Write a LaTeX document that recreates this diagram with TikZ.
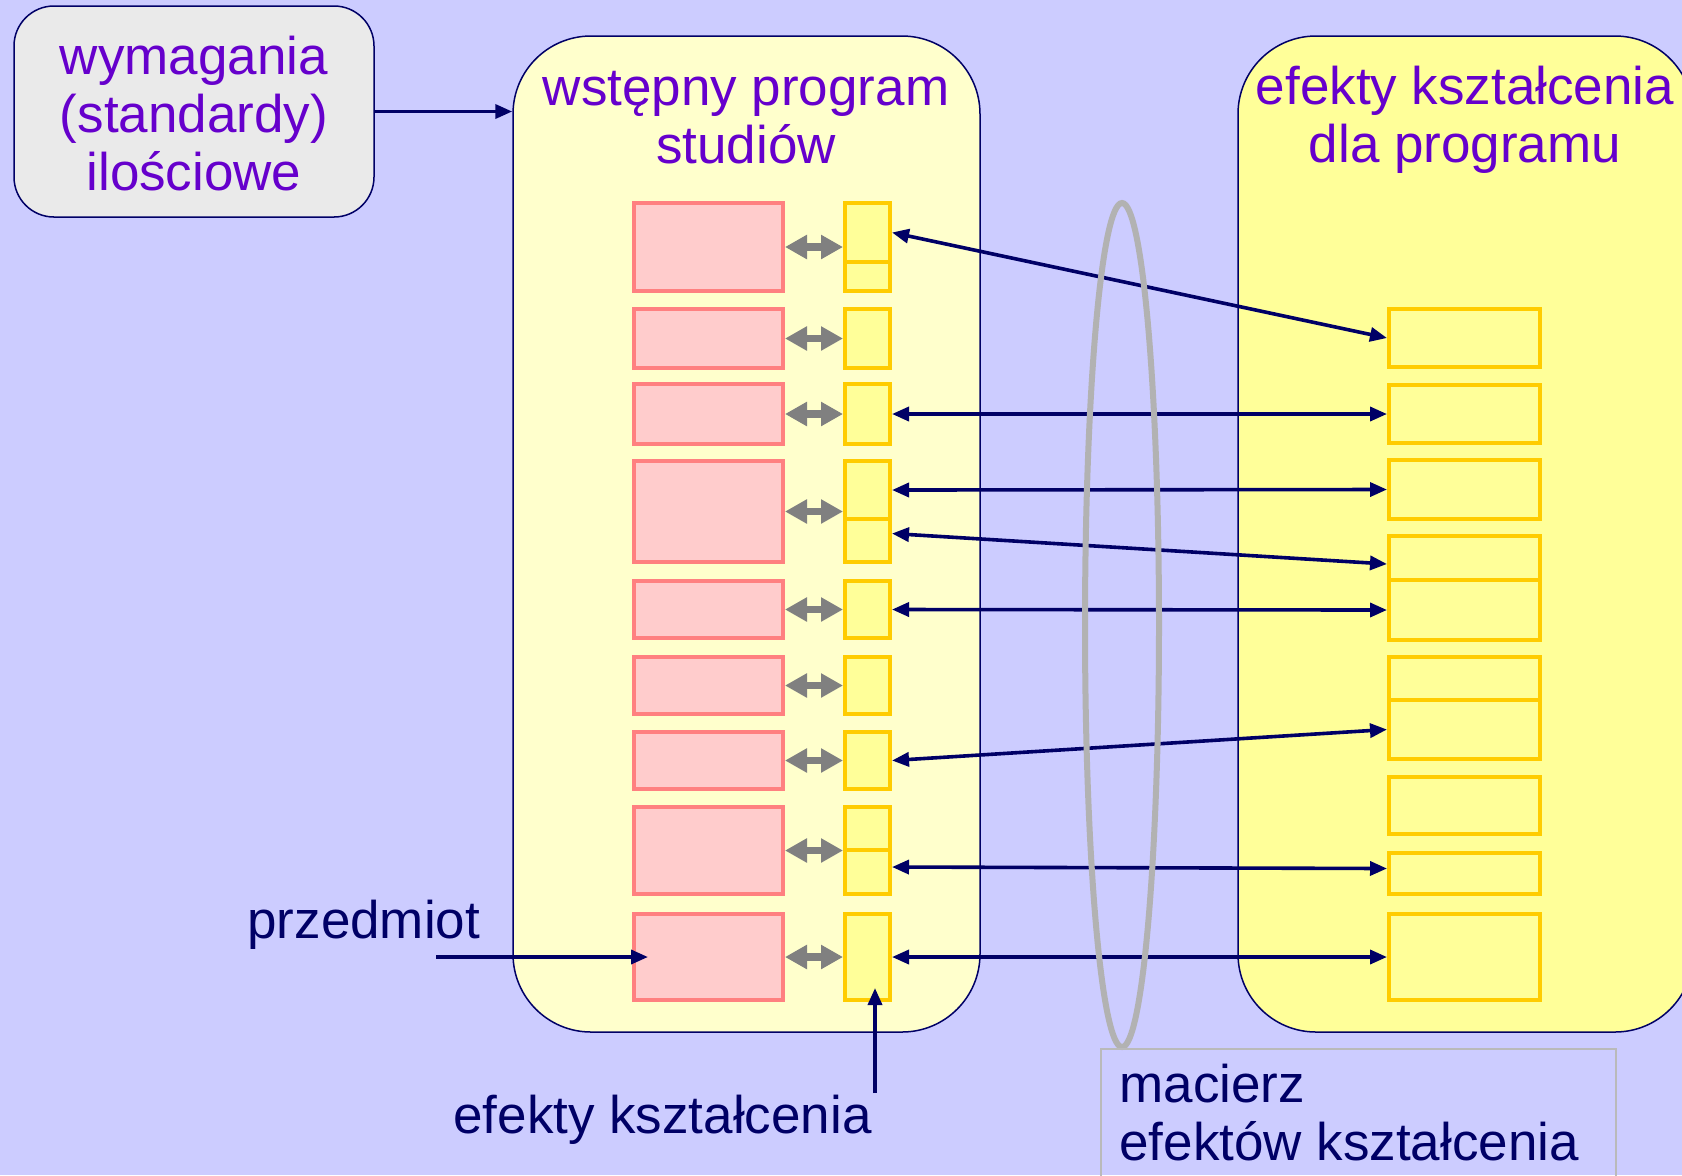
\documentclass[tikz,border=0pt]{standalone}
\usepackage{fontspec}
\setmainfont{Liberation Sans}
\usepackage{xcolor}
\usepackage{tikz}
\usetikzlibrary{arrows.meta}
\usetikzlibrary{fit}
\usetikzlibrary{positioning}

\definecolor{bgblue}{HTML}{CCCCFF}
\definecolor{titlepurple}{HTML}{6600CC}
\definecolor{navy}{HTML}{000066}
\definecolor{pinkfill}{HTML}{FFCCCC}
\definecolor{pinkline}{HTML}{FF8080}
\definecolor{yellowfill}{HTML}{FFFF99}
\definecolor{yellowline}{HTML}{FFCC00}
\definecolor{progfill}{HTML}{FFFFCC}
\definecolor{reqfill}{HTML}{EAEAEA}
\definecolor{ringgrey}{HTML}{B2B2B2}

\tikzset{
  bigbox/.style={draw=navy, line width=0.75pt, rounded corners=39pt, inner sep=0pt},
  pinkbox/.style={draw=pinkline, fill=pinkfill, line width=2pt, inner sep=0pt},
  effbox/.style={draw=yellowline, fill=yellowfill, line width=2pt, inner sep=0pt},
  titletext/.style={text=titlepurple, align=center, inner sep=0pt,
    font=\fontsize{26.5pt}{29pt}\selectfont},
  labeltext/.style={text=navy, inner sep=0pt, font=\fontsize{26.5pt}{29pt}\selectfont},
  linkarrow/.style={draw=navy, line width=1.8pt,
    {Triangle[length=8.5pt,width=7pt]}-{Triangle[length=8.5pt,width=7pt]}},
  pointarrow/.style={draw=navy, line width=1.8pt, -{Triangle[length=8.5pt,width=7pt]}},
  greyarrow/.style={draw=gray, line width=3.75pt,
    {Triangle[length=11pt,width=11.5pt]}-{Triangle[length=11pt,width=11.5pt]}}
}

\begin{document}
\begin{tikzpicture}[x=0.5pt, y=-0.5pt]
  % Page and background
  \useasboundingbox (0,0) rectangle (1682,1175);
  \fill[bgblue] (0,0) rectangle (1682,1175);

  % The three big boxes
  \node[bigbox, fill=reqfill, rounded corners=20pt, fit={(14,6) (374,217)}] (req) {};
  \node[bigbox, fill=progfill, fit={(513,36) (980,1032)}] (prog) {};
  \node[bigbox, fill=yellowfill, fit={(1238,36) (1693,1032)}] (eff) {};

  % Titles (base = last line)
  \node[titletext, anchor=base] (reqtitle) at (194,190) {wymagania\\(standardy)\\ilościowe};
  \node[titletext, anchor=base] (progtitle) at (746,163) {wstępny program\\studiów};
  \node[titletext, anchor=base] (efftitle) at (1465,162) {efekty kształcenia\\dla programu};

  \draw[pointarrow] (req.east) -- (req.east -| prog.west);

  % Subjects (pink)
  \node[pinkbox, fit={(634,203) (783,291)}] (p1) {};
  \node[pinkbox, fit={(634,309) (783,368)}] (p2) {};
  \node[pinkbox, fit={(634,384) (783,444)}] (p3) {};
  \node[pinkbox, fit={(634,461) (783,562)}] (p4) {};
  \node[pinkbox, fit={(634,581) (783,638)}] (p5) {};
  \node[pinkbox, fit={(634,657) (783,714)}] (p6) {};
  \node[pinkbox, fit={(634,732) (783,789)}] (p7) {};
  \node[pinkbox, fit={(634,807) (783,894)}] (p8) {};
  \node[pinkbox, fit={(634,914) (783,1000)}] (p9) {};

  % Outcomes of the subjects
  \node[effbox, fit={(845,203) (890,262)}] (y1a) {};
  \node[effbox, fit={(845,262) (890,291)}] (y1b) {};
  \node[effbox, fit={(845,309) (890,368)}] (y2) {};
  \node[effbox, fit={(845,384) (890,444)}] (y3) {};
  \node[effbox, fit={(845,461) (890,519)}] (y4a) {};
  \node[effbox, fit={(845,519) (890,562)}] (y4b) {};
  \node[effbox, fit={(845,581) (890,638)}] (y5) {};
  \node[effbox, fit={(845,657) (890,714)}] (y6) {};
  \node[effbox, fit={(845,732) (890,789)}] (y7) {};
  \node[effbox, fit={(845,807) (890,850)}] (y8a) {};
  \node[effbox, fit={(845,850) (890,894)}] (y8b) {};
  \node[effbox, fit={(845,914) (890,1000)}] (y9) {};

  % Outcomes of the programme
  \node[effbox, fit={(1389,309) (1540,367)}] (r1) {};
  \node[effbox, fit={(1389,385) (1540,443)}] (r2) {};
  \node[effbox, fit={(1389,460) (1540,519)}] (r3) {};
  \node[effbox, fit={(1389,536) (1540,580)}] (r4a) {};
  \node[effbox, fit={(1389,580) (1540,640)}] (r4b) {};
  \node[effbox, fit={(1389,657) (1540,700)}] (r5a) {};
  \node[effbox, fit={(1389,700) (1540,759)}] (r5b) {};
  \node[effbox, fit={(1389,777) (1540,834)}] (r6) {};
  \node[effbox, fit={(1389,853) (1540,894)}] (r7) {};
  \node[effbox, fit={(1389,914) (1540,1000)}] (r8) {};

  % Grey links subject <-> outcome
  \draw[greyarrow] (p1.east) -- (p1.east -| y1a.west);
  \draw[greyarrow] (p2.east) -- (p2.east -| y2.west);
  \draw[greyarrow] (p3.east) -- (p3.east -| y3.west);
  \draw[greyarrow] (p4.east) -- (p4.east -| y4a.west);
  \draw[greyarrow] (p5.east) -- (p5.east -| y5.west);
  \draw[greyarrow] (p6.east) -- (p6.east -| y6.west);
  \draw[greyarrow] (p7.east) -- (p7.east -| y7.west);
  \draw[greyarrow] (p8.east) -- (p8.east -| y8a.west);
  \draw[greyarrow] (p9.east) -- (p9.east -| y9.west);

  % Matrix links
  \draw[linkarrow] (y1a.east) -- (r1.west);
  \draw[linkarrow] (y3.east) -- (r2.west);
  \draw[linkarrow] (y4a.east) -- (r3.west);
  \draw[linkarrow] ([yshift=3.5pt]y4b.east) -- ([yshift=-3pt]r4a.west);
  \draw[linkarrow] (y5.east) -- (r4b.west);
  \draw[linkarrow] (y7.east) -- (r5b.west);
  \draw[linkarrow] ([yshift=2.5pt]y8b.east) -- ([yshift=2.5pt]r7.west);
  \draw[linkarrow] (y9.east) -- (r8.west);

  % Ring round the links
  \draw[ringgrey, line width=3pt] (1122,625) ellipse [x radius=37, y radius=422];

  % Matrix label
  \node[draw=ringgrey!90, line width=0.6pt, inner sep=0pt, fit={(1101,1049) (1616,1230)}] (matrixframe) {};
  \node[labeltext, anchor=base west, align=left] (matrixlabel) at (1119,1160) {macierz\\efektów kształcenia};

  % Pointers
  \node[labeltext, anchor=base west] (subjlabel) at (247,938) {przedmiot};
  \coordinate (subjstart) at (436,957);
  \coordinate (subjtip) at (648,957);
  \draw[pointarrow] (subjstart) -- (subjtip);

  \node[labeltext, anchor=base west] (efflabel) at (453,1133) {efekty kształcenia};
  \coordinate (effstart) at (875,1093);
  \coordinate (efftip) at (875,988);
  \draw[pointarrow] (effstart) -- (efftip);
\end{tikzpicture}
\end{document}
